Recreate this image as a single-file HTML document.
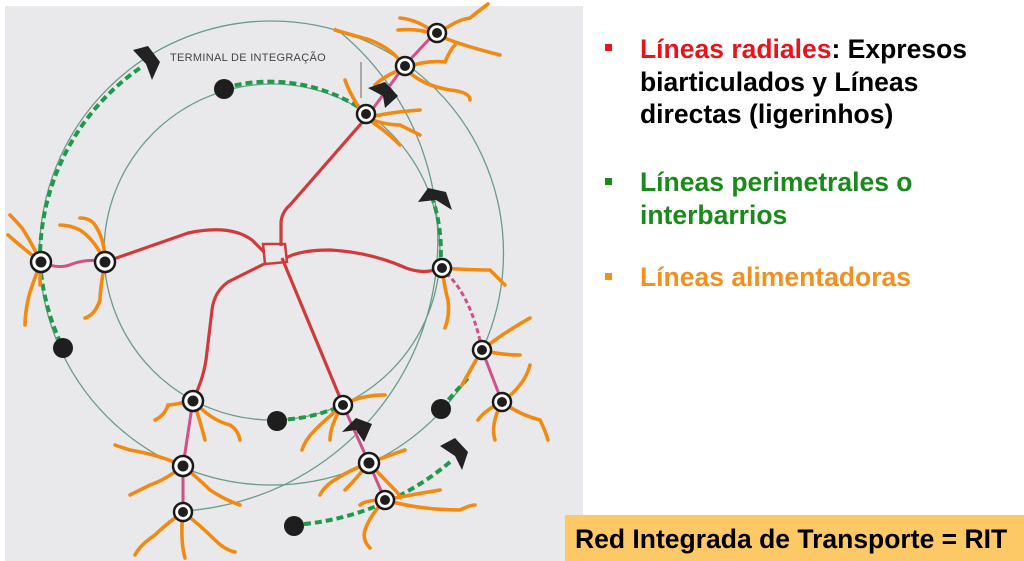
<!DOCTYPE html>
<html><head><meta charset="utf-8"><style>
html,body{margin:0;padding:0;background:#fff;width:1024px;height:561px;overflow:hidden;}
.t{position:absolute;font-family:"Liberation Sans",Arial,sans-serif;font-weight:bold;font-size:26.5px;line-height:32.5px;white-space:nowrap;}
.b{position:absolute;width:7px;height:7px;}
</style></head><body>
<svg width="1024" height="561" style="position:absolute;left:0;top:0">
<rect x="5" y="6" width="578" height="555" fill="#e9e9eb"/>
<g fill="none" stroke="#6a9c88" stroke-width="1.3">
<circle cx="272" cy="252" r="168"/>
<circle cx="271.5" cy="253" r="232"/>
<path d="M335 28 A271 271 0 0 1 183 511"/>
</g>
<g fill="none" stroke="#1f9a4a" stroke-width="4" stroke-dasharray="7 4">
<path d="M40 262 A232 232 0 0 1 140 68"/>
<path d="M40 262 A232 232 0 0 0 63 348"/>
<path d="M224 88 A168 168 0 0 1 366 112"/>
<path d="M440 268 A168 168 0 0 0 433 200"/>
<path d="M277 420 A168 168 0 0 0 343 405"/>
<path d="M441 408 L468 378"/>
<path d="M293 525 A271 271 0 0 0 450 462"/>
</g>
<g fill="none" stroke="#d0508a" stroke-width="3">
<path d="M40 262 Q60 270 72 264 Q90 258 105 262"/>
<path d="M193 400 L183 466 L183 512"/>
<path d="M343 405 L369 463 L385 500"/>
<path d="M366 118 L405 65 L435 33"/>
<path d="M482 350 L502 402"/>
<path d="M440 268 Q470 290 482 350" stroke-dasharray="5 3"/>
</g>
<g fill="none" stroke="#d03a3a" stroke-width="3.2">
<path d="M366 118 L290 205 Q282 212 281 222 L281 246"/>
<path d="M105 262 L188 233 Q230 224 252 240 L264 252"/>
<path d="M286 258 Q300 250 330 250 Q370 252 406 268 Q425 275 440 268"/>
<path d="M264 264 L228 282 Q214 292 212 310 L206 360 Q203 380 193 400"/>
<path d="M282 258 L343 405"/>
<path d="M263 244 L285 244 L287 262 L265 264 Z" stroke-width="2.5"/>
</g>
<g fill="none" stroke="#f28a12" stroke-width="3.6" stroke-linecap="round">
<path d="M437 35 Q420 20 400 18"/><path d="M437 35 Q455 20 470 18 Q480 10 488 4"/><path d="M437 35 Q460 45 500 55"/><path d="M437 35 Q420 28 398 30"/>
<path d="M405 68 Q395 50 370 40 Q345 33 335 30"/><path d="M405 68 Q425 60 445 62 Q450 50 455 45"/><path d="M405 68 Q420 85 450 90 Q470 92 470 100"/><path d="M405 68 Q385 75 375 85"/>
<path d="M366 118 Q350 95 345 80"/><path d="M366 118 Q390 112 420 110"/><path d="M366 118 Q385 125 400 125 Q410 130 420 135"/><path d="M366 118 Q385 130 400 145"/>
<path d="M41 262 Q30 240 22 228 Q15 220 10 215"/><path d="M41 262 Q25 250 8 235"/><path d="M41 262 Q30 290 28 300 Q25 315 25 325"/><path d="M41 262 Q40 278 40 285"/>
<path d="M105 262 Q95 240 80 230 Q70 225 60 225"/><path d="M105 262 Q105 240 95 225 Q90 218 80 218"/><path d="M105 262 Q100 290 100 300 Q95 315 85 318"/>
<path d="M442 268 Q470 270 490 270 Q500 280 505 285"/><path d="M442 268 Q445 290 448 300 Q450 315 445 328"/>
<path d="M482 350 Q500 335 530 318"/><path d="M482 350 Q500 355 520 355"/><path d="M482 350 Q470 370 462 385"/>
<path d="M502 402 Q525 385 530 365"/><path d="M502 402 Q520 415 540 420 Q545 430 548 440"/><path d="M502 402 Q490 425 495 440"/><path d="M502 402 Q485 410 478 420"/>
<path d="M193 400 Q175 405 168 405 Q165 415 155 420"/><path d="M193 400 Q200 420 205 440"/><path d="M193 400 Q210 420 230 425 Q238 430 240 440"/>
<path d="M343 405 Q360 395 385 395"/><path d="M343 405 Q325 420 315 430 Q305 440 302 450"/><path d="M343 405 Q330 425 330 440"/>
<path d="M183 466 Q160 455 130 450 Q120 447 115 445"/><path d="M183 466 Q165 480 150 485 Q140 490 130 495"/><path d="M183 466 Q200 480 210 490 Q225 500 240 505"/>
<path d="M369 463 Q390 455 405 450"/><path d="M369 463 Q350 470 338 478 Q325 485 320 495"/><path d="M369 463 Q385 480 395 490 Q400 495 400 498"/><path d="M369 463 Q355 480 345 490"/>
<path d="M385 500 Q410 495 440 490"/><path d="M385 500 Q420 510 460 510 Q470 505 475 505"/><path d="M385 500 Q370 515 365 530 Q362 540 370 548"/><path d="M385 500 Q365 500 360 505"/>
<path d="M183 512 Q165 525 155 535 Q140 545 135 555"/><path d="M183 512 Q180 540 185 558"/><path d="M183 512 Q200 525 215 540 Q225 550 235 552"/>
</g>
<g stroke="#1a1a1a" stroke-width="2.5" fill="#fff">
<circle cx="437" cy="33" r="9"/><circle cx="405" cy="66" r="9"/><circle cx="366" cy="114" r="9"/>
<circle cx="41" cy="262" r="10"/><circle cx="105" cy="262" r="10"/><circle cx="442" cy="268" r="9"/>
<circle cx="482" cy="350" r="9"/><circle cx="502" cy="402" r="9"/><circle cx="193" cy="401" r="10"/>
<circle cx="343" cy="405" r="9"/><circle cx="183" cy="466" r="10"/><circle cx="369" cy="463" r="10"/>
<circle cx="385" cy="500" r="9"/><circle cx="183" cy="512" r="9"/>
</g>
<g fill="#1e1e1e">
<circle cx="437" cy="33" r="5"/><circle cx="405" cy="66" r="5"/><circle cx="366" cy="114" r="5"/>
<circle cx="41" cy="262" r="5.5"/><circle cx="105" cy="262" r="5.5"/><circle cx="442" cy="268" r="5"/>
<circle cx="482" cy="350" r="5"/><circle cx="502" cy="402" r="5"/><circle cx="193" cy="401" r="5.5"/>
<circle cx="343" cy="405" r="5"/><circle cx="183" cy="466" r="5.5"/><circle cx="369" cy="463" r="5.5"/>
<circle cx="385" cy="500" r="5"/><circle cx="183" cy="512" r="5"/>
<circle cx="224" cy="89" r="10"/><circle cx="63" cy="348" r="10"/><circle cx="277" cy="421" r="10"/>
<circle cx="441" cy="409" r="10"/><circle cx="294" cy="526" r="10"/>
</g>
<g fill="#222">
<path d="M133 50 L148 46 L160 62 L152 80 L146 64 Z"/>
<path d="M368 88 L385 82 L398 96 L385 108 L383 96 Z"/>
<path d="M418 202 L428 188 L446 192 L452 210 L436 200 Z"/>
<path d="M342 432 L356 418 L372 424 L364 442 L356 430 Z"/>
<path d="M440 446 L455 438 L468 452 L462 470 L455 456 Z"/>
</g>
<line x1="361" y1="62" x2="361" y2="98" stroke="#666" stroke-width="1"/>
<text x="170" y="61" font-family="Liberation Sans,Arial,sans-serif" font-size="11" fill="#444" letter-spacing="0.3">TERMINAL DE INTEGRAÇÃO</text>
</svg>
<div class="b" style="left:605px;top:44px;background:#e8141c"></div>
<div class="t" style="left:640px;top:33px;color:#000"><span style="color:#e8141c">Líneas radiales</span>: Expresos<br>biarticulados y Líneas<br>directas (ligerinhos)</div>
<div class="b" style="left:605px;top:178px;background:#1a8a1a"></div>
<div class="t" style="left:640px;top:166px;color:#1a8a1a">Líneas perimetrales o<br>interbarrios</div>
<div class="b" style="left:605px;top:273px;background:#f39020"></div>
<div class="t" style="left:640px;top:261px;color:#f39020">Líneas alimentadoras</div>
<div style="position:absolute;left:565px;top:515px;width:459px;height:46px;background:#fdc866"></div>
<div class="t" style="left:575px;top:523px;color:#000">Red Integrada de Transporte = RIT</div>
</body></html>
